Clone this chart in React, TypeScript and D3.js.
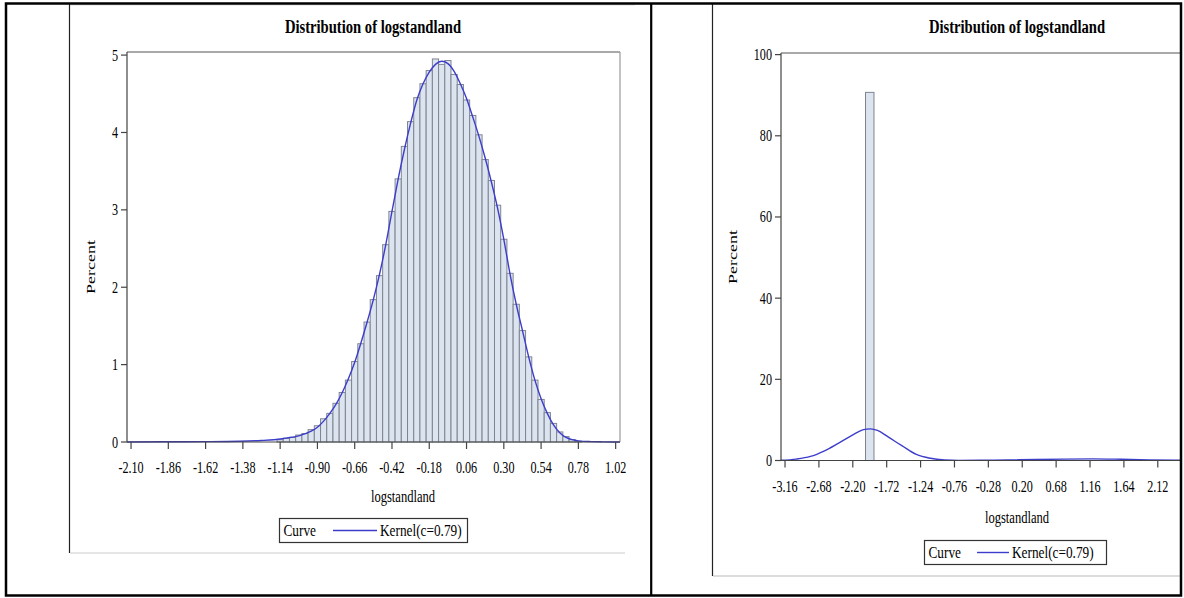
import React from "react";
import * as d3 from "d3";

// ---------- data ----------
const LEFT_BIN_WIDTH = 0.04;
const LEFT_BIN_CENTERS = [
  -1.14, -1.10, -1.06, -1.02, -0.98, -0.94, -0.90, -0.86, -0.82, -0.78, -0.74, -0.70,
  -0.66, -0.62, -0.58, -0.54, -0.50, -0.46, -0.42, -0.38, -0.34, -0.30, -0.26, -0.22,
  -0.18, -0.14, -0.10, -0.06, -0.02, 0.02, 0.06, 0.10, 0.14, 0.18, 0.22, 0.26,
  0.30, 0.34, 0.38, 0.42, 0.46, 0.50, 0.54, 0.58, 0.62, 0.66, 0.70, 0.74, 0.78,
];
const LEFT_BIN_PERCENT = [
  0.03, 0.05, 0.06, 0.09, 0.11, 0.16, 0.21, 0.30, 0.37, 0.50, 0.64, 0.80,
  1.04, 1.27, 1.55, 1.84, 2.15, 2.55, 2.98, 3.40, 3.82, 4.14, 4.45, 4.63,
  4.80, 4.95, 4.88, 4.93, 4.75, 4.62, 4.42, 4.22, 3.97, 3.65, 3.38, 3.06,
  2.62, 2.18, 1.78, 1.44, 1.10, 0.80, 0.55, 0.38, 0.24, 0.13, 0.07, 0.03, 0.01,
];
const LEFT_KERNEL_X = [
  -2.126, -1.9, -1.6, -1.4, -1.26, -1.18, -1.10, -1.02, -0.94, -0.90, -0.86, -0.82,
  -0.78, -0.74, -0.70, -0.66, -0.62, -0.58, -0.54, -0.50, -0.46, -0.42, -0.38, -0.34,
  -0.30, -0.26, -0.22, -0.18, -0.14, -0.10, -0.06, -0.02, 0.02, 0.06, 0.10, 0.14,
  0.18, 0.22, 0.26, 0.30, 0.34, 0.38, 0.42, 0.46, 0.50, 0.54, 0.58, 0.62, 0.66,
  0.70, 0.74, 0.78, 0.86, 0.94, 1.048,
];
const LEFT_KERNEL_Y = [
  0.0, 0.003, 0.005, 0.01, 0.02, 0.03, 0.05, 0.08, 0.14, 0.19, 0.27, 0.37,
  0.49, 0.64, 0.82, 1.03, 1.28, 1.55, 1.84, 2.17, 2.55, 2.98, 3.40, 3.78,
  4.12, 4.42, 4.63, 4.78, 4.88, 4.92, 4.89, 4.79, 4.63, 4.44, 4.20, 3.95,
  3.67, 3.36, 3.02, 2.62, 2.17, 1.78, 1.44, 1.10, 0.80, 0.56, 0.37, 0.22, 0.12,
  0.06, 0.03, 0.015, 0.005, 0.002, 0.0,
];
const LEFT_X_TICKS = [-2.10, -1.86, -1.62, -1.38, -1.14, -0.90, -0.66, -0.42, -0.18, 0.06, 0.30, 0.54, 0.78, 1.02];
const LEFT_Y_TICKS = [0, 1, 2, 3, 4, 5];

const RIGHT_BIN_WIDTH = 0.12;
const RIGHT_BIN_CENTERS = [-1.96];
const RIGHT_BIN_PERCENT = [90.7];
const RIGHT_KERNEL_X = [
  -3.22, -3.0, -2.8, -2.6, -2.4, -2.2, -2.05, -1.95, -1.85, -1.7, -1.5, -1.3, -1.1,
  -0.9, -0.7, -0.4, 0.0, 0.4, 0.8, 1.2, 1.6, 2.0, 2.4, 2.7,
];
const RIGHT_KERNEL_Y = [
  0.05, 0.35, 1.0, 2.4, 4.3, 6.3, 7.6, 7.8, 7.4, 5.8, 3.6, 1.5, 0.55,
  0.15, 0.04, 0.05, 0.12, 0.25, 0.35, 0.4, 0.3, 0.15, 0.06, 0.03,
];
const RIGHT_X_TICKS = [-3.16, -2.68, -2.20, -1.72, -1.24, -0.76, -0.28, 0.20, 0.68, 1.16, 1.64, 2.12];
const RIGHT_Y_TICKS = [0, 20, 40, 60, 80, 100];

const TITLE = "Distribution of logstandland";
const X_LABEL = "logstandland";
const Y_LABEL = "Percent";
const LEGEND_TITLE = "Curve";
const LEGEND_ENTRY = "Kernel(c=0.79)";

// ---------- style ----------
const FONT = "'Liberation Serif','Times New Roman',Times,serif";
const BAR_FILL = "#dbe4ef";
const BAR_STROKE = "#7f8590";
const CURVE = "#3d3dcc";
const AXIS = "#444";

function T({ x, y, size = 16, sx = 0.76, anchor = "middle", weight = "normal", rotate = false, children }: any) {
  return (
    <g transform={`translate(${x},${y}) scale(${sx},1)${rotate ? " rotate(-90)" : ""}`}>
      <text textAnchor={anchor} fontSize={size} fontWeight={weight} fontFamily={FONT} fill="#000">
        {children}
      </text>
    </g>
  );
}

function Panel({ cfg }: any) {
  const x = d3.scaleLinear().domain(cfg.xDomain).range(cfg.xRange);
  const y = d3.scaleLinear().domain(cfg.yDomain).range(cfg.yRange);
  const [x0, x1] = cfg.xRange;
  const [yb, yt] = cfg.yRange;
  const line = d3
    .line<number>()
    .x((_, i) => x(cfg.kx[i]))
    .y((v) => y(v))
    .curve(d3.curveMonotoneX);
  const fmt = (t: number) => t.toFixed(2);
  return (
    <g>
      {cfg.centers.map((c: number, i: number) => (
        <rect
          key={i}
          x={x(c - cfg.bw / 2)}
          y={y(cfg.values[i])}
          width={x(c + cfg.bw / 2) - x(c - cfg.bw / 2)}
          height={y(0) - y(cfg.values[i])}
          fill={BAR_FILL}
          stroke={BAR_STROKE}
          strokeWidth={1}
        />
      ))}
      <path d={line(cfg.ky) || ""} fill="none" stroke={CURVE} strokeWidth={1.4} />
      <line x1={x0} x2={x1} y1={yt} y2={yt} stroke="#555" strokeWidth={1.2} />
      <line x1={x1} x2={x1} y1={yt} y2={yb} stroke="#999" strokeWidth={1.2} />
      <line x1={x0} x2={x0} y1={yt} y2={yb} stroke={AXIS} strokeWidth={1.2} />
      <line x1={x0} x2={x1} y1={yb} y2={yb} stroke={AXIS} strokeWidth={1.2} />
      {cfg.xTicks.map((t: number, i: number) => (
        <g key={"xt" + i}>
          <line x1={x(t)} x2={x(t)} y1={yb} y2={yb + 7} stroke={AXIS} strokeWidth={1.2} />
          <T x={x(t)} y={cfg.xLabelBase}>{fmt(t)}</T>
        </g>
      ))}
      {cfg.yTicks.map((t: number, i: number) => (
        <g key={"yt" + i}>
          <line x1={x0 - 6} x2={x0} y1={y(t)} y2={y(t)} stroke={AXIS} strokeWidth={1.2} />
          <T x={x0 - 9} y={y(t) + 5.5} anchor="end">{String(t)}</T>
        </g>
      ))}
      <T x={cfg.titleX} y={cfg.titleY} size={19} sx={0.77} weight="bold">{TITLE}</T>
      <T x={cfg.xTitleX} y={cfg.xTitleY} size={17} sx={0.74}>{X_LABEL}</T>
      <T x={cfg.yTitleX} y={cfg.yTitleY} size={18} sx={0.75} rotate>{Y_LABEL}</T>
      <rect x={cfg.lg.x} y={cfg.lg.y} width={cfg.lg.w} height={cfg.lg.h} fill="#fff" stroke="#333" strokeWidth={1.2} />
      <T x={cfg.lg.x + 4} y={cfg.lg.y + 17.5} size={17.5} sx={0.76} anchor="start">{LEGEND_TITLE}</T>
      <line x1={cfg.lg.l1} x2={cfg.lg.l2} y1={cfg.lg.y + cfg.lg.h / 2} y2={cfg.lg.y + cfg.lg.h / 2} stroke={CURVE} strokeWidth={1.4} />
      <T x={cfg.lg.l2 + 3} y={cfg.lg.y + 17.5} size={17.5} sx={0.76} anchor="start">{LEGEND_ENTRY}</T>
    </g>
  );
}

export default function App() {
  const left = {
    xDomain: [-2.126, 1.048],
    xRange: [127, 620],
    yDomain: [0, 5.04],
    yRange: [442, 52],
    centers: LEFT_BIN_CENTERS,
    values: LEFT_BIN_PERCENT,
    bw: LEFT_BIN_WIDTH,
    kx: LEFT_KERNEL_X,
    ky: LEFT_KERNEL_Y,
    xTicks: LEFT_X_TICKS,
    yTicks: LEFT_Y_TICKS,
    xLabelBase: 473,
    titleX: 373,
    titleY: 33,
    xTitleX: 403,
    xTitleY: 502,
    yTitleX: 95,
    yTitleY: 267,
    lg: { x: 279.5, y: 518.5, w: 188, h: 24, l1: 333, l2: 377 },
  };
  const right = {
    xDomain: [-3.217, 2.6],
    xRange: [781, 781 + 5.817 * 70.6],
    yDomain: [0, 100.4],
    yRange: [460.5, 53],
    centers: RIGHT_BIN_CENTERS,
    values: RIGHT_BIN_PERCENT,
    bw: RIGHT_BIN_WIDTH,
    kx: RIGHT_KERNEL_X,
    ky: RIGHT_KERNEL_Y,
    xTicks: RIGHT_X_TICKS,
    yTicks: RIGHT_Y_TICKS,
    xLabelBase: 491.5,
    titleX: 1017,
    titleY: 33,
    xTitleX: 1017,
    xTitleY: 523,
    yTitleX: 737,
    yTitleY: 257,
    lg: { x: 924.5, y: 540.5, w: 182, h: 24, l1: 977, l2: 1009 },
  };
  return (
    <svg
      width={1184}
      height={598}
      style={{ position: "absolute", left: 0, top: 0, background: "#fff" }}
    >
      <rect x={0} y={0} width={1184} height={598} fill="#fff" />
      <line x1={69.5} x2={69.5} y1={4} y2={553} stroke="#222" strokeWidth={1.2} />
      <line x1={70} x2={625} y1={553} y2={553} stroke="#ccc" strokeWidth={1} />
      <line x1={70} x2={635} y1={5} y2={5} stroke="#ddd" strokeWidth={1} />
      <line x1={712.5} x2={712.5} y1={4} y2={576} stroke="#222" strokeWidth={1.2} />
      <line x1={713} x2={1181} y1={576} y2={576} stroke="#bbb" strokeWidth={1} />
      <Panel cfg={left} />
      <Panel cfg={right} />
      <rect x={1181.5} y={0} width={3} height={598} fill="#fff" />
      <rect x={6} y={3.5} width={1175} height={592} fill="none" stroke="#000" strokeWidth={2.5} />
      <line x1={651.2} x2={651.2} y1={3} y2={596} stroke="#000" strokeWidth={2.2} />
    </svg>
  );
}
